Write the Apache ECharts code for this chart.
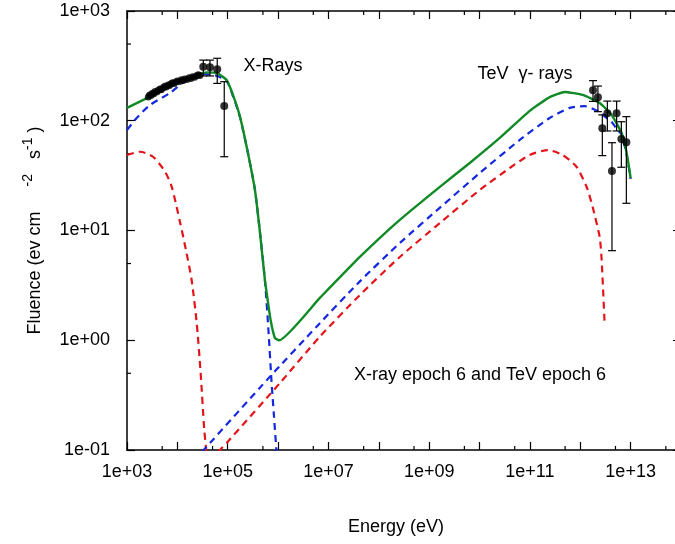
<!DOCTYPE html>
<html>
<head>
<meta charset="utf-8">
<script src="https://cdn.jsdelivr.net/npm/echarts@6/dist/echarts.min.js"></script>
<style>
  html, body { margin: 0; background: #fff; }
  #chart { width: 675px; height: 544px; }
</style>
</head>
<body>
<div id="chart"></div>
<script>
// data: [energy eV, fluence]
var xrayPts = [
  [2650, 165], [2800, 172], [3000, 170], [3200, 178], [3400, 176], [3600, 185],
  [3900, 183], [4200, 190], [4500, 195], [4800, 192], [5200, 200], [5600, 206],
  [6000, 203], [6500, 212], [7000, 210], [7500, 217], [8000, 222], [8600, 219],
  [9300, 226], [10000, 230], [11000, 228], [12000, 236], [13000, 233], [14000, 240],
  [15500, 238], [17000, 246], [18500, 243], [20000, 252], [22000, 249], [24000, 257],
  [26000, 262], [28000, 258]
];
// [E, F, low, high]
var xrayErr = [
  [3.27e4, 311, 256, 357],
  [4.44e4, 307, 256, 357],
  [6.19e4, 294, 219, 371],
  [8.53e4, 136, 47, 227]
];
var tevErr = [
  [1.79e12, 190, 150, 232],
  [2.24e12, 164, 121, 207],
  [2.74e12, 85.3, 48.1, 113],
  [3.45e12, 117, 80.7, 151],
  [4.26e12, 34.8, 6.55, 63.1],
  [5.27e12, 117, 80.7, 151],
  [6.54e12, 68.2, 37.7, 98],
  [8.22e12, 63.7, 17.7, 109]
];
var totalModel = [
  [1.00e3, 131], [2.86e3, 166], [9.68e3, 219], [3.81e4, 276], [6.11e4, 272],
  [9.51e4, 235], [1.27e5, 172], [1.75e5, 109], [2.52e5, 50.8], [3.47e5, 23.4],
  [4.36e5, 9.68], [5.47e5, 3.54], [6.08e5, 2.49], [7.10e5, 1.53], [8.65e5, 1.05],
  [1.05e6, 1.00], [6.75e6, 2.43], [4.20e7, 5.74], [2.61e8, 12.5], [1.70e9, 25.4],
  [6.39e9, 41.2], [2.52e10, 69.7], [9.91e10, 123], [2.47e11, 164], [4.90e11, 183],
  [1.12e12, 172], [2.43e12, 145], [4.20e12, 113], [6.62e12, 77.3], [8.34e12, 50.8],
  [1.00e13, 30.1]
];
var blueSync = [
  [1.00e3, 82.4], [1.56e3, 106], [2.86e3, 139], [7.13e3, 179], [1.53e4, 235],
  [3.22e4, 267], [6.11e4, 256], [9.51e4, 230], [1.27e5, 168], [1.75e5, 108],
  [2.52e5, 50.8], [3.47e5, 23.4], [4.36e5, 9.68], [5.47e5, 3.54], [6.43e5, 1.24],
  [7.37e5, 0.435], [8.26e5, 0.208], [9.25e5, 0.1], [9.91e5, 0.066]
];
var blueIC = [
  [3.08e4, 0.096], [6.87e5, 0.465], [5.81e6, 1.33], [4.20e7, 3.44], [2.61e8, 7.69],
  [1.70e9, 16.4], [1.01e10, 33.4], [6.28e10, 66.8], [2.47e11, 106], [6.17e11, 131],
  [1.22e12, 136], [2.43e12, 120], [3.00e12, 110], [4.20e12, 97.5], [5.50e12, 82.4],
  [6.62e12, 75], [8.34e12, 49], [1.00e13, 29.5]
];
var redSync = [
  [1.00e3, 48.8], [1.81e3, 52.2], [3.28e3, 47.0], [5.68e3, 34.4], [7.71e3, 25.1],
  [1.13e4, 11.9], [1.48e4, 6.64], [1.92e4, 3.54], [2.42e4, 1.44], [2.90e4, 0.503],
  [3.42e4, 0.152], [3.69e4, 0.106], [3.86e4, 0.081]
];
var redIC = [
  [6.40e4, 0.096], [9.51e4, 0.116], [1.09e6, 0.408], [6.75e6, 1.08], [4.20e7, 2.58],
  [2.61e8, 5.74], [1.70e9, 11.9], [1.01e10, 23.4], [3.97e10, 37.1], [9.91e10, 48.8],
  [2.25e11, 54.1], [4.48e11, 48.8], [8.49e11, 37.9], [1.34e12, 24.9], [1.76e12, 16.4],
  [2.43e12, 8.73], [2.66e12, 5.38], [3.05e12, 1.38]
];
var xMinorTicks = [5e3, 5e4, 5e5, 5e6, 5e7, 5e8, 5e9, 5e10, 5e11, 5e12, 5e13];
var yMinorTicks = [0.5, 5, 50, 500];

var X_MIN = 1e3, X_MAX = 1e14, Y_MIN = 0.1, Y_MAX = 1000;
var FONT = "'Liberation Sans', Arial, Helvetica, sans-serif";

var chart = echarts.init(document.getElementById('chart'));

function expLabel(v) {
  var e = Math.round(Math.log10(v));
  var a = Math.abs(e);
  return '1e' + (e < 0 ? '-' : '+') + (a < 10 ? '0' : '') + a;
}

function tickLine(x1, y1, x2, y2) {
  return { type: 'line', shape: { x1: x1, y1: y1, x2: x2, y2: y2 }, style: { stroke: '#000', lineWidth: 1.2 } };
}

// small ticks at 5x10^n, on both sides
function minorX(params, api) {
  var b = api.coord([api.value(0), Y_MIN]);
  var t = api.coord([api.value(0), Y_MAX]);
  return { type: 'group', children: [tickLine(b[0], b[1], b[0], b[1] - 4), tickLine(t[0], t[1], t[0], t[1] + 4)] };
}
function minorY(params, api) {
  var l = api.coord([X_MIN, api.value(1)]);
  var r = api.coord([X_MAX, api.value(1)]);
  return { type: 'group', children: [tickLine(l[0], l[1], l[0] + 4, l[1]), tickLine(r[0], r[1], r[0] - 4, r[1])] };
}

function errBar(params, api) {
  var lo = api.coord([api.value(0), api.value(2)]);
  var hi = api.coord([api.value(0), api.value(3)]);
  var w = 4;
  return {
    type: 'group',
    children: [
      tickLine(lo[0], lo[1], hi[0], hi[1]),
      tickLine(lo[0] - w, lo[1], lo[0] + w, lo[1]),
      tickLine(hi[0] - w, hi[1], hi[0] + w, hi[1])
    ]
  };
}

function logAxis(pos, isX, showLabel) {
  return {
    type: 'log',
    logBase: 10,
    position: pos,
    min: isX ? X_MIN : Y_MIN,
    max: isX ? X_MAX : Y_MAX,
    interval: 1,
    axisLine: { show: true, lineStyle: { color: '#000', width: 1.5 } },
    axisTick: { show: true, inside: true, length: 8, lineStyle: { color: '#000', width: 1.2 } },
    splitLine: { show: false },
    axisLabel: {
      show: showLabel,
      color: '#000',
      fontSize: 18,
      fontFamily: FONT,
      margin: isX ? 13 : 17,
      showMinLabel: true,
      showMaxLabel: true,
      formatter: function (v) {
        var e = Math.round(Math.log10(v));
        if (isX && (e % 2 === 0)) return '';
        return expLabel(v);
      }
    }
  };
}

var xBottom = logAxis('bottom', true, true);
xBottom.name = 'Energy (eV)';
xBottom.nameLocation = 'middle';
xBottom.nameGap = 68;
xBottom.nameTextStyle = { color: '#000', fontSize: 18, fontFamily: FONT, padding: [0, 16, 0, 0] };

var yLeft = logAxis('left', false, true);
yLeft.name = '{a|Fluence (ev cm     }{b|-2}{a|   s}{b|-1}{a| )}';
yLeft.nameLocation = 'middle';
yLeft.nameGap = 78;
yLeft.nameTextStyle = {
  rich: {
    a: { color: '#000', fontSize: 18, fontFamily: FONT, lineHeight: 24 },
    b: { color: '#000', fontSize: 14, fontFamily: FONT, padding: [0, 0, 14, 0] }
  }
};

var dash = [7, 5];

var option = {
  animation: false,
  backgroundColor: '#fff',
  grid: { left: 127, top: 11, width: 554, height: 439, containLabel: false, outerBoundsMode: 'none' },
  xAxis: [xBottom, logAxis('top', true, false)],
  yAxis: [yLeft, logAxis('right', false, false)],
  graphic: [
    { type: 'text', x: 273, y: 66, style: { text: 'X-Rays', font: '18px ' + FONT, fill: '#000', align: 'center', verticalAlign: 'middle' } },
    { type: 'text', x: 525, y: 74, style: { text: 'TeV  \u03b3- rays', font: '18px ' + FONT, fill: '#000', align: 'center', verticalAlign: 'middle' } },
    { type: 'text', x: 480, y: 375, style: { text: 'X-ray epoch 6 and TeV epoch 6', font: '18px ' + FONT, fill: '#000', align: 'center', verticalAlign: 'middle' } }
  ],
  series: [
    {
      type: 'custom', renderItem: minorX, silent: true,
      data: xMinorTicks.map(function (v) { return [v, Y_MIN]; }),
      encode: { x: 0, y: 1 }, z: 1
    },
    {
      type: 'custom', renderItem: minorY, silent: true,
      data: yMinorTicks.map(function (v) { return [X_MIN, v]; }),
      encode: { x: 0, y: 1 }, z: 1
    },
    {
      type: 'line', data: redSync, symbol: 'none', smooth: 0.25,
      lineStyle: { color: '#e3151b', width: 2.2, type: dash }
    },
    {
      type: 'line', data: redIC, symbol: 'none', smooth: 0.2,
      lineStyle: { color: '#e3151b', width: 2.2, type: dash }
    },
    {
      type: 'line', data: blueSync, symbol: 'none', smooth: 0.25,
      lineStyle: { color: '#1428e0', width: 2.2, type: dash }
    },
    {
      type: 'line', data: blueIC, symbol: 'none', smooth: 0.2,
      lineStyle: { color: '#1428e0', width: 2.2, type: dash }
    },
    {
      type: 'line', data: totalModel, symbol: 'none', smooth: 0.15,
      lineStyle: { color: '#0f8a24', width: 2.4 }
    },
    {
      type: 'custom', renderItem: errBar,
      data: xrayErr.concat(tevErr),
      encode: { x: 0, y: [1, 2, 3] }, z: 5
    },
    {
      type: 'scatter', data: xrayPts, symbol: 'circle', symbolSize: 7,
      itemStyle: { color: '#000' }, z: 6
    },
    {
      type: 'scatter', data: xrayErr.concat(tevErr).map(function (d) { return [d[0], d[1]]; }),
      symbol: 'circle', symbolSize: 8, itemStyle: { color: '#000' }, z: 6
    }
  ]
};

chart.setOption(option);
</script>
</body>
</html>
